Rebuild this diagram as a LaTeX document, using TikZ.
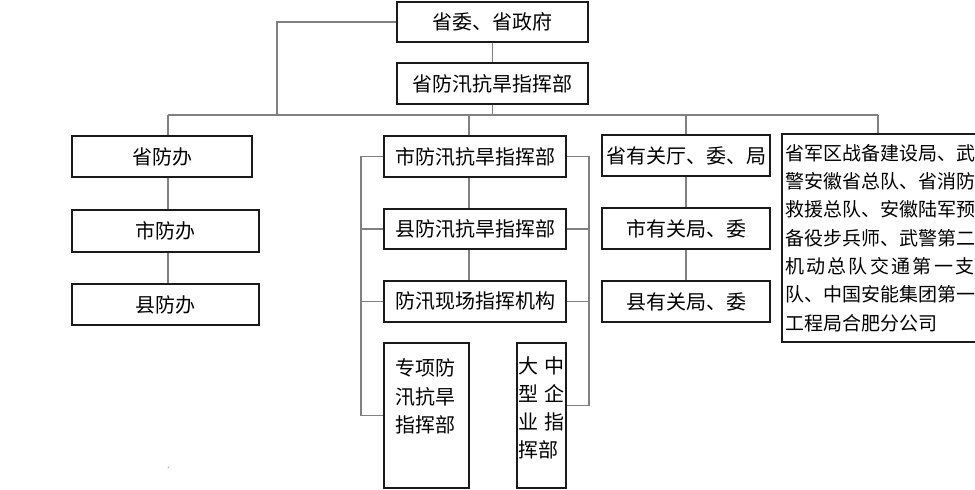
\documentclass[tikz,border=0pt]{standalone}
\usepackage{fontspec}
\setmainfont{Noto Sans CJK SC}
\usetikzlibrary{calc}
\definecolor{bordercol}{HTML}{1A1A1A}
\definecolor{linecol}{HTML}{808080}
\tikzset{
  box/.style={draw=bordercol, line width=1.2pt, fill=white, inner sep=0pt, font=\fontsize{20}{28}\selectfont},
  conn/.style={draw=linecol, line width=1.3pt},
}
\newcommand{\chgap}{\hspace{2.3pt}}
\begin{document}
\begin{tikzpicture}[x=1pt,y=-1pt]
\useasboundingbox (0,0) rectangle (975,490);
% coordinates for connector routing
\coordinate (busL) at (168,115);
\coordinate (busR) at (878,115);
\coordinate (busK) at (277,115);
\coordinate (m1) at (469,115);
\coordinate (m2) at (686,115);
\coordinate (lb) at (361,0);
\coordinate (rb) at (589,0);
% nodes
\node[box, minimum width=191, minimum height=40] (tp) at (492.5,22) {省委、省政府};
\node[box, minimum width=191, minimum height=41] (zb) at (492.5,83.5) {省防汛抗旱指挥部};
\node[box, minimum width=180, minimum height=41] (sfb) at (162,156.5) {省防办};
\node[box, minimum width=187, minimum height=42] (shb) at (165.5,231) {市防办};
\node[box, minimum width=187, minimum height=41] (xfb) at (165.5,304.5) {县防办};
\node[box, minimum width=182, minimum height=41] (szh) at (475,156.5) {市防汛抗旱指挥部};
\node[box, minimum width=182, minimum height=40] (xzh) at (475,229) {县防汛抗旱指挥部};
\node[box, minimum width=182, minimum height=41] (xc) at (475,301.5) {防汛现场指挥机构};
\node[box, minimum width=85, minimum height=145] (zx) at (426.5,415.5)
  {\parbox[c][137pt][t]{62pt}{\fontsize{20}{28.5}\selectfont\vspace{12pt}专项防\\汛抗旱\\指挥部}};
\node[box, minimum width=49, minimum height=145] (dz) at (541.5,415.5)
  {\parbox[c][137pt][t]{46pt}{\fontsize{20}{28}\selectfont\vspace{10pt}大\hfill 中\\型\hfill 企\\业\hfill 指\\挥部}};
\node[box, minimum width=168, minimum height=41] (syg) at (686,155.5) {省有关厅、委、局};
\node[box, minimum width=168, minimum height=41] (shj) at (686,228.5) {市有关局、委};
\node[box, minimum width=168, minimum height=41] (xyj) at (686,301.5) {县有关局、委};
\node[box, minimum width=208, minimum height=208, align=left] (big) at (886,238)
  {\parbox{202pt}{\fontsize{19}{28.3}\selectfont\raggedright 省军区战备建设局、武\\警安徽省总队、省消防\\救援总队、安徽陆军预\\备役步兵师、武警第二\\机\chgap 动\chgap 总\chgap 队\chgap 交\chgap 通\chgap 第\chgap 一\chgap 支\\队、中国安能集团第一\\工程局合肥分公司}};
% connectors
\draw[conn] (tp.south) -- (zb.north);
\draw[conn] (tp.west) -| (busK);
\draw[conn] (zb.south) -- (zb.south |- busL);
\draw[conn] (busL) -- (busR);
\draw[conn] (busL) -- (busL |- sfb.north);
\draw[conn] (busL |- sfb.south) -- (busL |- shb.north);
\draw[conn] (busL |- shb.south) -- (busL |- xfb.north);
\draw[conn] (m1) -- (m1 |- szh.north);
\draw[conn] (m1 |- szh.south) -- (m1 |- xzh.north);
\draw[conn] (m1 |- xzh.south) -- (m1 |- xc.north);
\draw[conn] (m2) -- (syg.north);
\draw[conn] (syg.south) -- (shj.north);
\draw[conn] (shj.south) -- (xyj.north);
\draw[conn] (busR) -- (busR |- big.north);
\draw[conn] (szh.west) -| (lb |- zx.west) -- (zx.west);
\draw[conn] (xzh.west) -- (lb |- xzh.west);
\draw[conn] (xc.west) -- (lb |- xc.west);
\coordinate (dzs) at ($(dz.east)+(0,-10)$);
\draw[conn] (szh.east) -| (rb |- dzs) -- (dzs);
\draw[conn] (xzh.east) -- (rb |- xzh.east);
\draw[conn] (xc.east) -- (rb |- xc.east);
% tiny stray dot
\fill[linecol!60] (168.5,467.5) circle (0.8);
\end{tikzpicture}
\end{document}
